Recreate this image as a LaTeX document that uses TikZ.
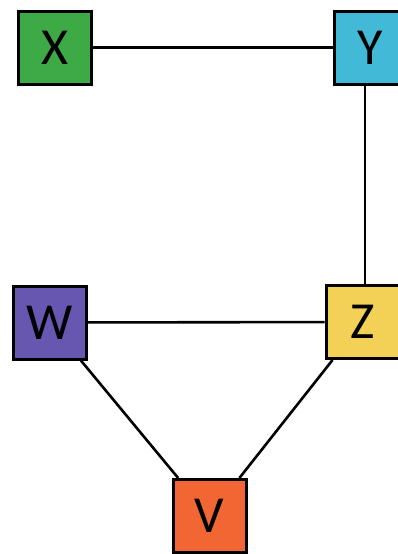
\documentclass[tikz,border=0pt]{standalone}
\usepackage{fontspec}
\setmainfont{Carlito}
\definecolor{cX}{HTML}{3DAA45}
\definecolor{cY}{HTML}{42B9D6}
\definecolor{cW}{HTML}{6757B0}
\definecolor{cZ}{HTML}{F3D056}
\definecolor{cV}{HTML}{F26633}
\tikzset{
  vbox/.style={draw=black, line width=3pt, minimum size=73pt, inner sep=0pt, font=\fontsize{52}{52}\selectfont},
  link/.style={line width=2.6pt}
}
\begin{document}
\begin{tikzpicture}[x=1pt,y=-1pt]
\useasboundingbox (0,0) rectangle (398,554);
\begin{scope}
\clip (0,0) rectangle (398,554);
\node[vbox, fill=cX] (X) at (54.5,47.5) {X};
\node[vbox, fill=cY] (Y) at (370.5,47.5) {Y};
\node[vbox, fill=cW] (W) at (49.5,322.5) {W};
\node[vbox, fill=cZ] (Z) at (362.5,322) {Z};
\node[vbox, fill=cV] (V) at (209.5,516) {V};
\draw[link] (X) -- (Y);
\draw[link] ([xshift=-5.5pt]Y.south) -- ([xshift=2.5pt]Z.north);
\draw[link] (W) -- (Z);
\draw[link] (W) -- (V);
\draw[link] (Z) -- (V);
\end{scope}
\end{tikzpicture}
\end{document}
